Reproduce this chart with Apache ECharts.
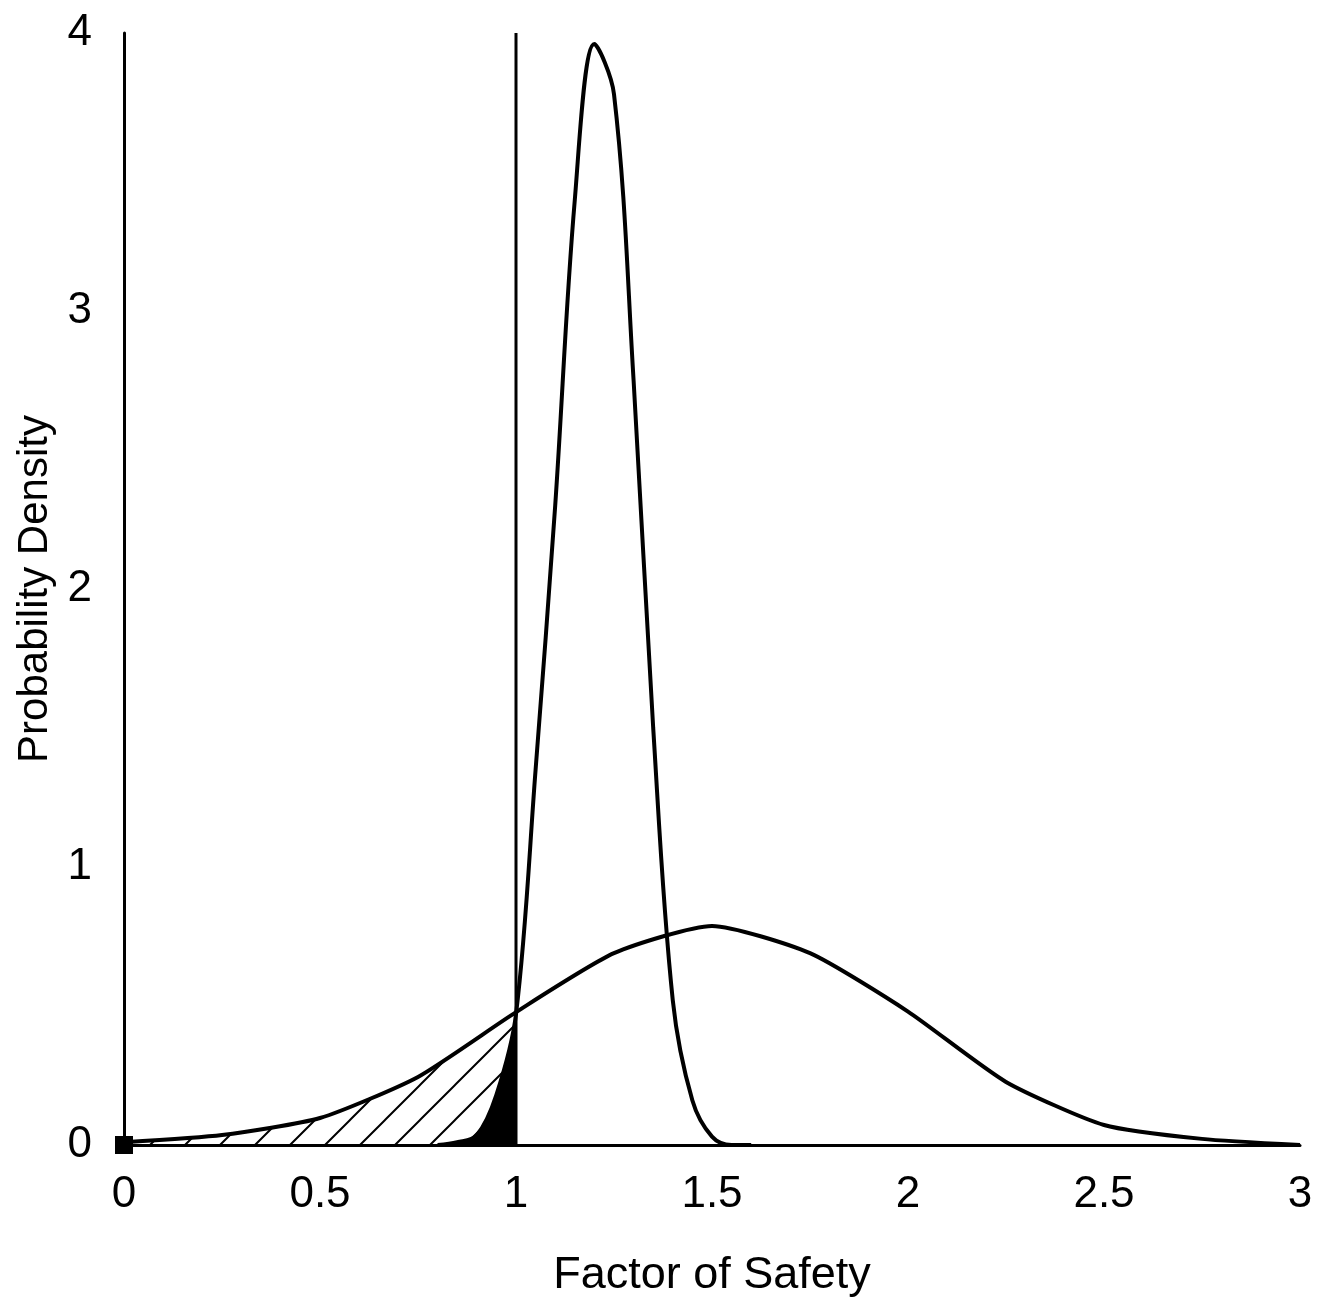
<!DOCTYPE html>
<html>
<head>
<meta charset="utf-8">
<title>Factor of Safety</title>
<script src="https://cdn.jsdelivr.net/npm/echarts@6/dist/echarts.min.js"></script>
<style>
  html, body { margin: 0; padding: 0; background: #fff; }
  #chart { width: 1317px; height: 1304px; }
</style>
</head>
<body>
<div id="chart"></div>
<script>
// wide distribution (read every 0.25)
var wideX = [0, 0.25, 0.5, 0.75, 1.0, 1.25, 1.5, 1.75, 2.0, 2.25, 2.5, 2.75, 3.0]
var wideY = [0.01, 0.036, 0.097, 0.245, 0.478, 0.69, 0.788, 0.69, 0.48, 0.227, 0.072, 0.022, 0]

// narrow distribution (read every 0.05)
var narrowX = [0.8, 0.85, 0.9, 0.95, 1.0, 1.05, 1.1, 1.15, 1.2, 1.25, 1.3, 1.35, 1.4, 1.45, 1.5, 1.55, 1.6]
var narrowY = [0, 0.01, 0.035, 0.18, 0.47, 1.35, 2.3, 3.4, 3.96, 3.78, 2.75, 1.5, 0.52, 0.16, 0.03, 0, 0]

var cutoff = 1.0
var xTicks = { min: 0, max: 3, interval: 0.5 }
var yTicks = { min: 0, max: 4, interval: 1 }

function pairs(xs, ys) {
  return xs.map(function (x, i) { return [x, ys[i]] })
}
function upTo(data, limit) {
  return data.filter(function (p) { return p[0] <= limit + 1e-9 })
}

// diagonal hatch tile
function hatch(step, width) {
  var c = document.createElement('canvas')
  c.width = step
  c.height = step
  var ctx = c.getContext('2d')
  ctx.strokeStyle = '#000'
  ctx.lineWidth = width
  ctx.beginPath()
  ctx.moveTo(-step / 2, step / 2); ctx.lineTo(step / 2, -step / 2)
  ctx.moveTo(0, step); ctx.lineTo(step, 0)
  ctx.moveTo(step / 2, step * 1.5); ctx.lineTo(step * 1.5, step / 2)
  ctx.stroke()
  return c
}

var wide = pairs(wideX, wideY)
var narrow = pairs(narrowX, narrowY)
var font = 'Liberation Sans, Arial, sans-serif'
var wideSmooth = 0.2
var narrowSmooth = 0.35

var chart = echarts.init(document.getElementById('chart'))
chart.setOption({
  animation: false,
  backgroundColor: '#fff',
  grid: { left: 124, right: 17, top: 33, bottom: 159 },
  xAxis: {
    type: 'value',
    min: xTicks.min,
    max: xTicks.max,
    interval: xTicks.interval,
    name: 'Factor of Safety',
    nameLocation: 'middle',
    nameGap: 108,
    nameTextStyle: { fontFamily: font, fontSize: 45, color: '#000' },
    axisLine: { show: true, onZero: false, lineStyle: { color: '#000', width: 3 } },
    axisTick: { show: false },
    splitLine: { show: false },
    axisLabel: { fontFamily: font, fontSize: 44, color: '#000', margin: 28 }
  },
  yAxis: {
    type: 'value',
    min: yTicks.min,
    max: yTicks.max,
    interval: yTicks.interval,
    name: 'Probability Density',
    nameLocation: 'middle',
    nameGap: 68,
    nameTextStyle: { fontFamily: font, fontSize: 42, color: '#000' },
    axisLine: { show: true, onZero: false, lineStyle: { color: '#000', width: 3 } },
    axisTick: { show: false },
    splitLine: { show: false },
    axisLabel: { fontFamily: font, fontSize: 44, color: '#000', margin: 32 }
  },
  series: [
    {
      name: 'hatched',
      type: 'line',
      data: upTo(wide, cutoff),
      smooth: wideSmooth,
      symbol: 'none',
      lineStyle: { width: 0 },
      areaStyle: { color: { image: hatch(35, 2), repeat: 'repeat' }, opacity: 1 },
      z: 1
    },
    {
      name: 'black',
      type: 'line',
      data: upTo(narrow, cutoff),
      smooth: narrowSmooth,
      symbol: 'none',
      lineStyle: { width: 0 },
      areaStyle: { color: '#000', opacity: 1 },
      z: 2
    },
    {
      name: 'wide',
      type: 'line',
      data: wide,
      smooth: wideSmooth,
      symbol: 'none',
      lineStyle: { color: '#000', width: 4 },
      z: 3
    },
    {
      name: 'narrow',
      type: 'line',
      data: narrow,
      smooth: narrowSmooth,
      symbol: 'none',
      lineStyle: { color: '#000', width: 4 },
      z: 3
    },
    {
      name: 'cutoff',
      type: 'line',
      data: [[cutoff, yTicks.min], [cutoff, yTicks.max]],
      symbol: 'none',
      lineStyle: { color: '#000', width: 3 },
      z: 3
    },
    {
      name: 'origin',
      type: 'scatter',
      data: [[0, 0]],
      symbol: 'rect',
      symbolSize: 18,
      itemStyle: { color: '#000', opacity: 1 },
      z: 4
    }
  ]
})
</script>
</body>
</html>
